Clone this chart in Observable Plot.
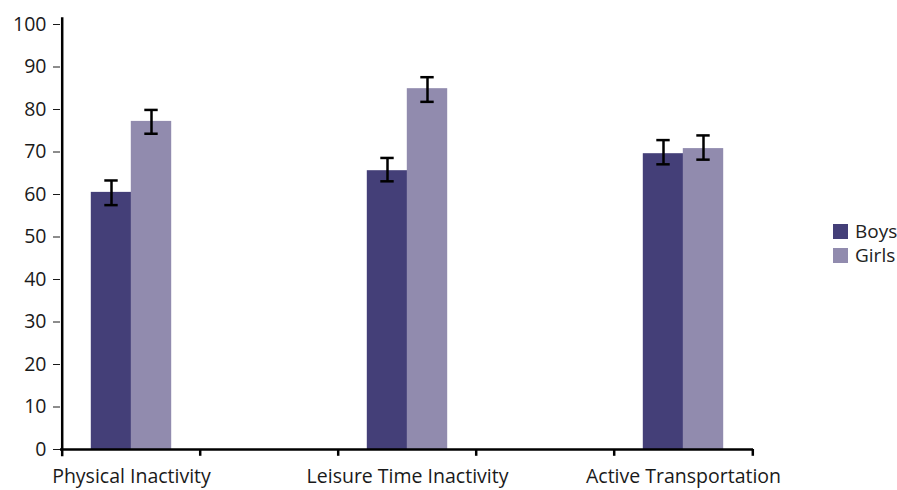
<!DOCTYPE html>
<html>
<head>
<meta charset="utf-8">
<script src="https://cdn.jsdelivr.net/npm/d3@7"></script>
<script src="https://cdn.jsdelivr.net/npm/@observablehq/plot@0.6"></script>
<style>
  html, body { margin: 0; padding: 0; background: #fff; }
  #wrap { position: relative; width: 897px; height: 490px; font-family: "Open Sans", sans-serif; }
  #legend { position: absolute; left: 833px; top: 219px; font-size: 19px; color: #222; line-height: 24px; }
  #legend .item { display: flex; align-items: center; }
  #legend .sw { width: 15px; height: 15px; margin-right: 7px; }
</style>
</head>
<body>
<div id="wrap"></div>
<script>
// ---- data ----
const categories = ["Physical Inactivity", "Leisure Time Inactivity", "Active Transportation"];
const slots = ["Physical Inactivity", "gap1", "Leisure Time Inactivity", "gap2", "Active Transportation"];
const series = ["Boys", "Girls"];
const colors = ["#443f78", "#918bae"];
const boys = [60.5, 65.6, 69.6];
const boysLow = [57.5, 63.1, 67.1];
const boysHigh = [63.3, 68.6, 72.8];
const girls = [77.2, 84.9, 70.8];
const girlsLow = [74.3, 81.8, 68.2];
const girlsHigh = [79.9, 87.6, 73.9];
const yTicks = [0, 10, 20, 30, 40, 50, 60, 70, 80, 90, 100];

// ---- layout ----
const W = 897, H = 490, ML = 60, MR = 144, MT = 24, MB = 41;
const step = (W - ML - MR) / slots.length;
const barW = 40, capW = 14;

const rows = [];
categories.forEach((c, i) => {
  rows.push({cat: c, sex: "Boys", v: boys[i], lo: boysLow[i], hi: boysHigh[i]});
  rows.push({cat: c, sex: "Girls", v: girls[i], lo: girlsLow[i], hi: girlsHigh[i]});
});
const boyRows = rows.filter(d => d.sex === "Boys");
const girlRows = rows.filter(d => d.sex === "Girls");

const barInset = (step - barW - 1) / 2;
const capInset = (step - capW) / 2;

const errMarks = (data, dx) => [
  Plot.ruleX(data, {x: "cat", y1: "lo", y2: "hi", dx, stroke: "#000", strokeWidth: 2.5}),
  Plot.tickY(data, {x: "cat", y: "lo", dx, stroke: "#000", strokeWidth: 2.5, insetLeft: capInset, insetRight: capInset}),
  Plot.tickY(data, {x: "cat", y: "hi", dx, stroke: "#000", strokeWidth: 2.5, insetLeft: capInset, insetRight: capInset})
];

const chart = Plot.plot({
  width: W, height: H,
  marginLeft: ML, marginRight: MR, marginTop: MT, marginBottom: MB,
  style: {fontFamily: "'Open Sans', sans-serif", fontSize: "19.5px", color: "#1a1a1a", background: "#fff"},
  x: {type: "band", domain: slots, padding: 0, tickSize: 0, tickPadding: 20,
      tickFormat: d => categories.includes(d) ? d : "", label: null},
  y: {domain: [0, 100], ticks: yTicks, tickSize: 7, tickPadding: 7, label: null},
  color: {domain: series, range: colors},
  marks: [
    Plot.barY(boyRows, {x: "cat", y: "v", fill: "sex", dx: -barW / 2, insetLeft: barInset, insetRight: barInset}),
    Plot.barY(girlRows, {x: "cat", y: "v", fill: "sex", dx: barW / 2, insetLeft: barInset, insetRight: barInset}),
    ...errMarks(boyRows, -barW / 2),
    ...errMarks(girlRows, barW / 2),
    Plot.ruleY([0], {stroke: "#000", strokeWidth: 2.5}),
    Plot.ruleX([slots[0]], {dx: -step / 2, y1: -1.7, y2: 101.6, stroke: "#000", strokeWidth: 2.5}),
    Plot.ruleX(slots.slice(1), {x: d => d, dx: -step / 2, y1: -1.6, y2: 0, stroke: "#000", strokeWidth: 2.5}),
    Plot.ruleX([slots[slots.length - 1]], {dx: step / 2, y1: -1.6, y2: 0, stroke: "#000", strokeWidth: 2.5})
  ]
});

const wrap = document.getElementById("wrap");
wrap.appendChild(chart);
const legend = document.createElement("div");
legend.id = "legend";
series.forEach((s, i) => {
  const item = document.createElement("div");
  item.className = "item";
  const sw = document.createElement("span");
  sw.className = "sw";
  sw.style.background = colors[i];
  const t = document.createElement("span");
  t.textContent = s;
  item.appendChild(sw); item.appendChild(t);
  legend.appendChild(item);
});
wrap.appendChild(legend);
</script>
</body>
</html>
